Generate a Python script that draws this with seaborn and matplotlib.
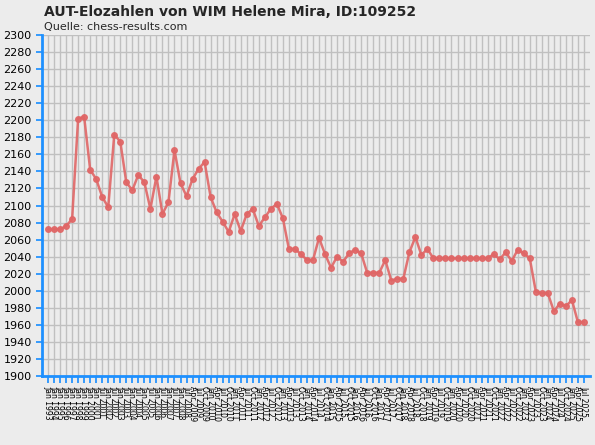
import matplotlib
matplotlib.use("Agg")
import matplotlib.pyplot as plt
import seaborn as sns
import pandas as pd

elo = [2072,2072,2072,2076,2084,2202,2204,2142,2131,2110,2098,2183,2175,2127,2118,2136,2127,2096,2134,2090,
       2104,2165,2126,2111,2131,2143,2151,2110,2092,2081,2069,2090,2070,2090,2096,2076,2086,2096,2102,2085,
       2049,2049,2043,2036,2036,2062,2043,2027,2040,2034,2044,2048,2044,2021,2021,2021,2036,2012,2014,2014,
       2045,2063,2042,2049,2038,2038,2038,2038,2038,2038,2038,2038,2038,2038,2043,2037,2045,2035,2048,2044,
       2038,1999,1997,1997,1976,1985,1982,1989,1963,1963]

labels = ["Jan 1993","Jan 1994","Jan 1995","Jan 1996","Jan 1997","Jan 1998","Jan 1999","Jan 2000",
          "Jan 2001","Jul 2001","Jan 2002","Jul 2002","Jan 2003","Jul 2003","Jan 2004","Jul 2004",
          "Jan 2005","Jul 2005","Jan 2006","Jul 2006","Jan 2007","Jul 2007","Jan 2008","Jul 2008",
          "Apr 2009","Jul 2009","Oct 2009"]
for y in range(2010, 2025):
    labels += [f"{m} {y}" for m in ["Jan", "Apr", "Jul", "Oct"]]
labels += ["Jan 2025", "Apr 2025", "Jul 2025"]

df = pd.DataFrame({"i": range(len(elo)), "elo": elo})

sns.set_theme(style="white")
plt.rcParams['font.family'] = ['DejaVu Sans']
fig = plt.figure(figsize=(5.95, 4.45), dpi=100, facecolor="#ECECEC")
ax = fig.add_axes([42/595, 1-376/445, 548/595, 341/445])
ax.set_facecolor("#ECECEC")
sns.lineplot(data=df, x="i", y="elo", ax=ax, color="#E06666", lw=1.8, marker="o",
             markersize=4, markeredgewidth=1, markeredgecolor="#E06666", alpha=0.9)
ax.set_xlim(-1, len(elo))
ax.set_ylim(1900, 2300)
ax.set_yticks(range(1900, 2301, 20))
ax.set_xticks(range(len(elo)))
ax.set_xticklabels(labels[:len(elo)], rotation=-90, fontsize=5.5)
ax.tick_params(axis="y", labelsize=8, colors="#1E90FF", length=4, direction="out", left=True)
ax.tick_params(axis="x", colors="#1E90FF", length=5, direction="out", bottom=True, pad=2)
for t in ax.get_yticklabels() + ax.get_xticklabels():
    t.set_color("black")
ax.grid(True, color="#C0C0C0", lw=1)
ax.set_axisbelow(True)
for s in ["top", "right"]:
    ax.spines[s].set_visible(False)
for s in ["left", "bottom"]:
    ax.spines[s].set_color("#1E90FF")
    ax.spines[s].set_linewidth(2)
ax.set_xlabel(""); ax.set_ylabel("")
fig.text(44/595, 1-12/445, "AUT-Elozahlen von WIM Helene Mira, ID:109252", fontsize=10,
         fontweight="bold", va="center")
fig.text(44/595, 1-27/445, "Quelle: chess-results.com", fontsize=8, va="center")
fig.savefig("out.png", dpi=100, facecolor="#ECECEC")
